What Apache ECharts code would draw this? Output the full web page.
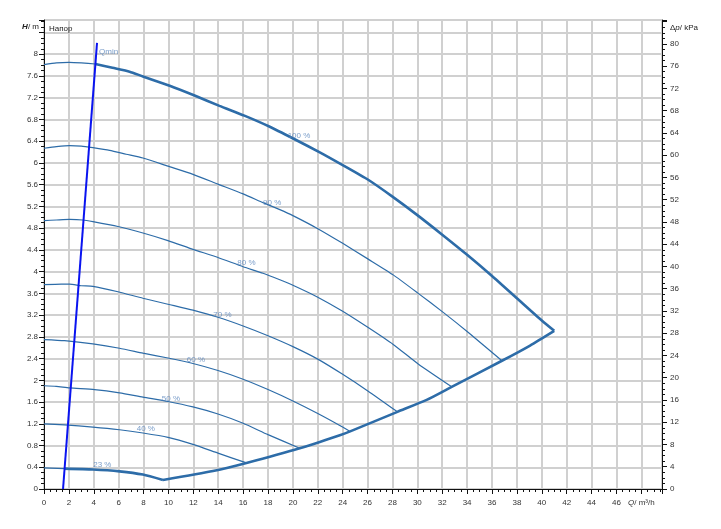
<!DOCTYPE html>
<html><head><meta charset="utf-8">
<script src="https://cdn.jsdelivr.net/npm/echarts@6/dist/echarts.min.js"></script>
<style>html,body{margin:0;padding:0;background:#fff}#c{width:721px;height:529px}</style>
</head><body><div id="c"></div>
<script>
// ---- data ----
const q100 = [0, 1, 2, 3, 4.13, 5.5, 6.88, 7.95, 10.1, 12.1, 14.1, 16.1, 18.1, 20.1, 22.2, 24.0, 26.05, 28.0, 30.0, 32.0, 34.0, 36.0, 38.0, 40.0, 41.0];
const h100 = [7.81, 7.84, 7.85, 7.84, 7.82, 7.75, 7.68, 7.59, 7.42, 7.24, 7.05, 6.87, 6.67, 6.44, 6.19, 5.96, 5.69, 5.38, 5.04, 4.68, 4.31, 3.92, 3.51, 3.10, 2.91];
const q100QminIndex = 4;
const q90 = [0, 1, 2.05, 3.0, 3.93, 5.27, 6.6, 7.95, 9.96, 11.97, 13.98, 16.0, 17.6, 18.95, 20.0, 22.0, 24.0, 26.05, 28.06, 30.07, 32.08, 34.1, 36.8];
const h90 = [6.27, 6.30, 6.32, 6.31, 6.28, 6.23, 6.16, 6.09, 5.94, 5.79, 5.61, 5.43, 5.27, 5.14, 5.03, 4.79, 4.52, 4.23, 3.94, 3.60, 3.25, 2.88, 2.36];
const q80 = [0, 1, 2.05, 3.12, 3.93, 5.94, 7.95, 9.96, 11.97, 13.98, 16.0, 17.6, 18.95, 20.0, 22.0, 24.0, 26.05, 28.06, 30.07, 32.76];
const h80 = [4.94, 4.95, 4.96, 4.95, 4.92, 4.83, 4.71, 4.57, 4.41, 4.26, 4.09, 3.97, 3.85, 3.75, 3.53, 3.27, 2.97, 2.66, 2.30, 1.88];
const q70 = [0, 1.38, 2.05, 3.0, 3.93, 5.94, 7.95, 9.96, 11.97, 13.98, 16.0, 18.0, 20.0, 22.0, 24.0, 26.05, 28.4];
const h70 = [3.76, 3.77, 3.77, 3.74, 3.73, 3.63, 3.51, 3.40, 3.29, 3.16, 3.00, 2.82, 2.62, 2.39, 2.11, 1.80, 1.42];
const q60 = [0, 1.65, 3.93, 6.07, 7.95, 9.96, 11.97, 13.98, 16.0, 18.0, 20.0, 22.0, 23.77, 24.6];
const h60 = [2.75, 2.73, 2.67, 2.59, 2.50, 2.41, 2.31, 2.18, 2.02, 1.83, 1.62, 1.39, 1.17, 1.06];
const q50 = [0, 0.98, 2.05, 4.06, 6.07, 7.95, 9.96, 11.97, 13.98, 16.0, 18.0, 20.55];
const h50 = [1.90, 1.89, 1.86, 1.83, 1.77, 1.69, 1.61, 1.51, 1.38, 1.21, 1.00, 0.75];
const q40 = [0, 1.65, 3.93, 6.07, 7.95, 9.96, 11.97, 13.98, 16.27];
const h40 = [1.20, 1.18, 1.14, 1.09, 1.03, 0.95, 0.82, 0.66, 0.48];
const q23 = [0, 1.65, 3.93, 6.07, 7.95, 9.56];
const h23 = [0.39, 0.375, 0.36, 0.325, 0.265, 0.165];
const q23QminIndex = 1;
const qEnv = [9.56, 13.58, 16.27, 20.55, 23.77, 24.6, 28.4, 30.75, 32.76, 36.8, 39.06, 41.0];
const hEnv = [0.165, 0.33, 0.48, 0.75, 0.99, 1.06, 1.42, 1.64, 1.88, 2.36, 2.64, 2.91];
const qQmin = [1.53, 4.26];
const hQmin = [0, 8.21];
const curveLabels = ['100 %', '90 %', '80 %', '70 %', '60 %', '50 %', '40 %', '23 %'];
const curveLabelQ = [20.49, 18.34, 16.27, 14.34, 12.21, 10.2, 8.18, 4.69];
const curveLabelH = [6.50, 5.26, 4.17, 3.21, 2.38, 1.66, 1.10, 0.44];
const qminLabel = 'Qmin';
const qminLabelQ = 5.19, qminLabelH = 8.05;
const xTickStep = 2, hTickStep = 0.4, kTickStep = 4;

// ---- styles ----
const LINE = '#2d6ca8', LABEL = '#5a86bd', FONT = 'Liberation Sans, Arial, sans-serif';
const pts = (q, h) => q.map((x, i) => [x, h[i]]);
function curve(data, width) {
  return { type: 'line', data, showSymbol: false, symbol: 'none', smooth: 0.2,
    lineStyle: { color: LINE, width }, silent: true, z: 3, animation: false };
}
const series = [
  curve(pts(q100, h100).slice(0, q100QminIndex + 1), 1.2),
  curve(pts(q100, h100).slice(q100QminIndex), 2.6),
  curve(pts(q90, h90), 1.2),
  curve(pts(q80, h80), 1.2),
  curve(pts(q70, h70), 1.2),
  curve(pts(q60, h60), 1.2),
  curve(pts(q50, h50), 1.2),
  curve(pts(q40, h40), 1.2),
  curve(pts(q23, h23).slice(0, q23QminIndex + 1), 1.2),
  curve(pts(q23, h23).slice(q23QminIndex), 2.6),
  curve(pts(qEnv, hEnv), 2.6),
  { type: 'line', data: pts(qQmin, hQmin), showSymbol: false, symbol: 'none',
    lineStyle: { color: '#0a14f0', width: 2 }, silent: true, z: 4, animation: false },
  { type: 'scatter', symbolSize: 0, silent: true, z: 5, animation: false,
    data: curveLabels.map((t, i) => ({ value: [curveLabelQ[i], curveLabelH[i]], name: t })),
    label: { show: true, position: 'inside', formatter: p => p.name, color: LABEL, fontSize: 8, fontFamily: FONT } },
  { type: 'scatter', symbolSize: 0, silent: true, z: 5, animation: false,
    data: [{ value: [qminLabelQ, qminLabelH], name: qminLabel }],
    label: { show: true, position: 'inside', formatter: p => p.name, color: LABEL, fontSize: 8, fontFamily: FONT } }
];

const chart = echarts.init(document.getElementById('c'), null, { renderer: 'canvas' });
const axisLabelBase = { color: '#333', fontSize: 8, fontFamily: FONT };
chart.setOption({
  animation: false,
  backgroundColor: '#fff',
  grid: { left: 44, right: 59, top: 20, bottom: 40, show: true, borderColor: '#555', borderWidth: 1, backgroundColor: '#fff' },
  xAxis: {
    type: 'value', min: 0, max: 49.66, interval: xTickStep,
    axisLine: { show: true, onZero: false, lineStyle: { color: '#111', width: 1 } },
    axisTick: { show: true, length: 5, lineStyle: { color: '#111' } },
    minorTick: { show: true, splitNumber: 4, length: 3, lineStyle: { color: '#111' } },
    splitLine: { show: true, lineStyle: { color: '#d0d0d0', width: 2 } },
    axisLabel: Object.assign({}, axisLabelBase, { margin: 10, showMaxLabel: false,
      formatter: v => (Math.abs(v - 48) < 1e-6 ? '{i|Q}/ m³/h' : (v > 47 || Math.abs(v / xTickStep - Math.round(v / xTickStep)) > 1e-6 ? '' : String(v))),
      rich: { i: { fontStyle: 'italic', fontSize: 8, fontFamily: FONT, color: '#333' } } })
  },
  yAxis: [
    {
      type: 'value', min: 0, max: 8.63, interval: hTickStep, position: 'left',
      axisLine: { show: true, onZero: false, lineStyle: { color: '#111', width: 1 } },
      axisTick: { show: true, length: 5, lineStyle: { color: '#111' } },
      minorTick: { show: true, splitNumber: 4, length: 3, lineStyle: { color: '#111' } },
      splitLine: { show: true, lineStyle: { color: '#d0d0d0', width: 2 } },
      axisLabel: Object.assign({}, axisLabelBase, { margin: 6, showMaxLabel: false,
        formatter: v => (v > 8.01 ? '' : String(+v.toFixed(1))) })
    },
    {
      type: 'value', min: 0, max: 84.3, interval: kTickStep, position: 'right',
      axisLine: { show: true, onZero: false, lineStyle: { color: '#111', width: 1 } },
      axisTick: { show: true, length: 5, lineStyle: { color: '#111' } },
      minorTick: { show: true, splitNumber: 4, length: 3, lineStyle: { color: '#111' } },
      splitLine: { show: false },
      axisLabel: Object.assign({}, axisLabelBase, { margin: 8, showMaxLabel: false,
        formatter: v => (v > 80.1 ? '' : String(Math.round(v))) })
    }
  ],
  graphic: [
    { type: 'text', z: 100, left: 49, top: 25, style: { text: 'Напор', fill: '#222', font: '8px ' + FONT } },
    { type: 'text', z: 100, right: 721 - 39, top: 23, style: { text: '{b|H}/ m', fill: '#222', font: '8px ' + FONT, align: 'right',
      rich: { b: { fontStyle: 'italic', fontWeight: 'bold', fontSize: 8, fontFamily: FONT, fill: '#222' } } } },
    { type: 'text', z: 100, left: 670, top: 24, style: { text: 'Δ{i|p}/ kPa', fill: '#222', font: '8px ' + FONT,
      rich: { i: { fontStyle: 'italic', fontSize: 8, fontFamily: FONT, fill: '#222' } } } }
  ],
  series
});
</script></body></html>
